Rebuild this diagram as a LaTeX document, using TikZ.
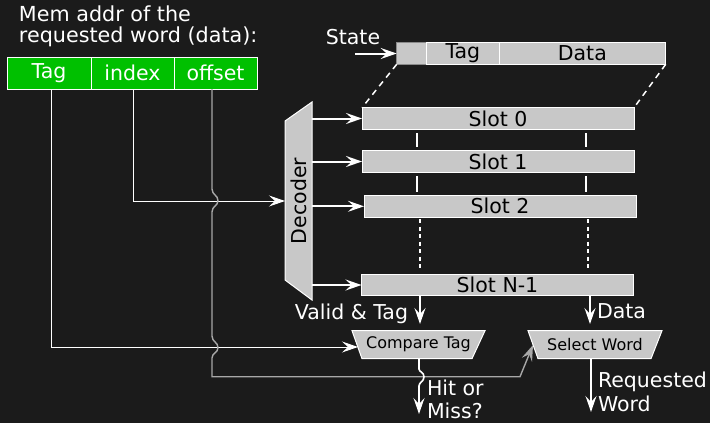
\documentclass[tikz,border=0pt]{standalone}
\usepackage{fontspec}
\setmainfont{DejaVu Sans}
\usetikzlibrary{arrows.meta,calc}
\definecolor{bg}{HTML}{1B1B1B}
\definecolor{addrgreen}{HTML}{00C000}
\definecolor{cellgray}{HTML}{C8C8C8}
\definecolor{wiregray}{HTML}{A8A8A8}
\definecolor{stateedge}{HTML}{8A8A8A}

\begin{document}
\begin{tikzpicture}[x=1pt,y=-1pt,
  every node/.style={inner sep=0pt, outer sep=0pt},
  big/.style={font=\fontsize{20.5}{24}\selectfont},
  small/.style={font=\fontsize{16}{19}\selectfont},
  label/.style={big, text=white},
  addrcell/.style={draw=white, fill=addrgreen, line width=1pt, minimum height=32pt, big, text=white, anchor=west},
  cell/.style={draw=white, fill=cellgray, line width=1pt, minimum height=21.6pt, big, text=black},
  slotbox/.style={cell, minimum width=272pt},
  tip/.style={-{Stealth[length=16pt,width=11pt,inset=6pt]}},
  arr/.style={draw=white, line width=2pt, tip},
  wire/.style={draw=white, line width=1pt},
  offwire/.style={draw=wiregray, line width=1.4pt},
  tick/.style={draw=white, line width=2pt},
  dotline/.style={draw=white, line width=2pt, dash pattern=on 4pt off 3.5pt},
  dashline/.style={draw=white, line width=1.5pt, dash pattern=on 6pt off 5pt},
  unitbox/.style={draw=white, fill=cellgray, line width=1pt},
]
\fill[bg] (0,0) rectangle (710,423);
\useasboundingbox (0,0) rectangle (710,423);

% --- address fields ---
\node[label, font=\fontsize{20.7}{20}\selectfont, anchor=base west] (title1) at (19,21.7) {Mem addr of the};
\node[label, font=\fontsize{20.7}{20}\selectfont, anchor=base west] (title2) at (19,42) {requested word (data):};
\node[addrcell, minimum width=84pt] (atag) at (7,73) {Tag};
\node[addrcell, minimum width=83pt] (aidx) at (atag.east) {index};
\node[addrcell, minimum width=83pt] (aoff) at (aidx.east) {offset};

% --- line layout: state / tag / data ---
\node[cell, draw=stateedge, minimum width=30pt, anchor=west] (stc) at (396.7,53.5) {};
\node[cell, minimum width=72.3pt, anchor=west] (tgc) at (stc.east) {Tag};
\node[cell, minimum width=166.7pt, anchor=west] (dtc) at (tgc.east) {Data};
\node[label, anchor=base] (state) at (353,45) {State};
\coordinate (statein) at (355,53.5);
\draw[arr] (statein) -- (stc.west);

% --- slots ---
\node[slotbox] (s0) at (498,118.5) {Slot 0};
\node[slotbox] (s1) at (498,161.5) {Slot 1};
\node[slotbox] (s2) at (500,206.3) {Slot 2};
\node[slotbox] (sN) at (497.5,285) {Slot N-1};

\draw[dashline] (stc.south west) -- (s0.north west);
\draw[dashline] (dtc.south east) -- (s0.north east);

% columns running through the slots
\foreach \a/\b in {s0/s1, s1/s2}{
  \coordinate (ta) at ($(\a.south west)+(55.3,4)$);
  \coordinate (tb) at ($(\a.south west)+(223.7,4)$);
  \coordinate (te) at ($(\b.north)+(0,-4)$);
  \draw[tick] (ta) -- (ta |- te);
  \draw[tick] (tb) -- (tb |- te);
}
\coordinate (da) at ($(s2.south west)+(56,2)$);
\coordinate (db) at ($(s2.south west)+(223.7,2)$);
\coordinate (de) at ($(sN.north)+(0,-3)$);
\draw[dotline] (da) -- (da |- de);
\draw[dotline] (db) -- (db |- de);

% --- decoder ---
\node[minimum width=27pt, minimum height=198pt] (dec) at (298.5,201) {};
\draw[unitbox] ($(dec.north west)+(0,19)$) -- (dec.north east) -- (dec.south east)
  -- ($(dec.south west)+(0,-20)$) -- cycle;
\node[big, text=black, rotate=90] (dectext) at (dec.center) {Decoder};
\foreach \s in {s0,s1,s2,sN}
  \draw[arr] (dec.east |- \s.west) -- (\s.west);

% --- compare / select units ---
\node[minimum width=133pt, minimum height=28pt] (ct) at (418.5,344.7) {};
\draw[unitbox] (ct.north west) -- (ct.north east) -- ($(ct.south east)+(-13,0)$)
  -- ($(ct.south west)+(10,0)$) -- cycle;
\node[small, text=black] (cttext) at (ct.center) {Compare Tag};

\node[minimum width=134pt, minimum height=28pt] (sw) at (595,344.7) {};
\draw[unitbox] (sw.north west) -- (sw.north east) -- ($(sw.south east)+(-11,0)$)
  -- ($(sw.south west)+(10,0)$) -- cycle;
\node[small, text=black] (swtext) at (sw.center) {Select Word};

% slot outputs
\draw[arr] (sN.south -| 420,0) -- (420,324);
\node[label, anchor=east] (validlbl) at (408,314) {Valid \& Tag};
\draw[arr] (sN.south -| 590,0) -- (590,324);
\node[label, anchor=west] (datalbl) at (597,311) {Data};

% --- address wires ---
\coordinate (ctin) at (358,347);
\coordinate (swin) at (533,345);
% index -> decoder
\draw[wire, tip] ([xshift=0.5pt]aidx.south) |- (dec.west);
% tag -> compare
\draw[wire, tip] ([xshift=2pt]atag.south) |- (ctin);
% offset -> select word, hopping over the two wires it crosses
\draw[offwire, tip] ([xshift=-3.5pt]aoff.south) -- (212,189)
  .. controls (212,195) and (218,195) .. (218,200.7)
  .. controls (218,206) and (212,206) .. (212,212)
  -- (212,336)
  .. controls (212,342) and (218,342) .. (218,347.5)
  .. controls (218,353) and (212,353) .. (212,358)
  -- (212,376.7) -- (520,376.7) -- (swin);

% --- results ---
\draw[arr, line width=1.6pt] (ct.south -| 419,0) -- (419,369)
  .. controls (419,372) and (424,372) .. (424,376.7)
  .. controls (424,382) and (419,382) .. (419,386) -- (419,414);
\node[label, anchor=base west] (hit1) at (427,395.5) {Hit or};
\node[label, anchor=base west] (hit2) at (427,418.5) {Miss?};

\draw[arr, line width=1.6pt] (sw.south -| 591,0) -- (591,412);
\node[label, anchor=base west] (req1) at (598,387) {Requested};
\node[label, anchor=base west] (req2) at (598,411.5) {Word};
\end{tikzpicture}
\end{document}
